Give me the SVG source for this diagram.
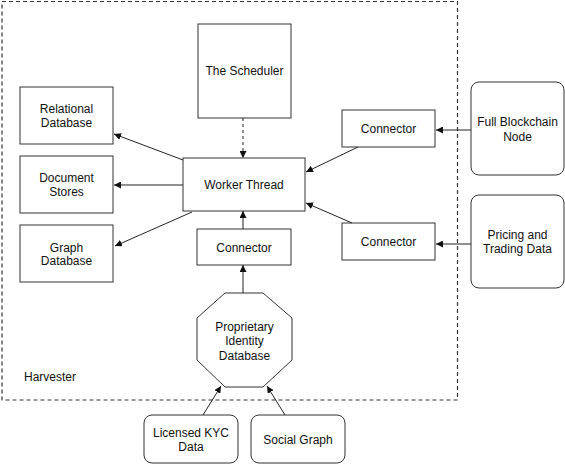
<svg xmlns="http://www.w3.org/2000/svg" width="565" height="464" viewBox="0 0 565 464">
<style>
.box{fill:#fff;stroke:#333;stroke-width:1}
.t{font-family:"Liberation Sans",Arial,sans-serif;font-size:12px;fill:#111;text-anchor:middle}
.e{stroke:#222;stroke-width:1;fill:none}
</style>
<defs>
<marker id="ah" viewBox="0 0 10 10" refX="10" refY="5" markerWidth="7" markerHeight="7" markerUnits="userSpaceOnUse" orient="auto">
<path d="M0,0 L10,5 L0,10 z" fill="#111"/>
</marker>
</defs>
<rect x="0" y="0" width="565" height="464" fill="#fff"/>
<g id="harvester">
<rect x="2" y="1.5" width="455.5" height="398.5" fill="none" stroke="#333" stroke-width="1.2" stroke-dasharray="4,3"/>
<text class="t" x="24" y="381" style="text-anchor:start">Harvester</text>
</g>
<g id="scheduler"><rect class="box" x="198" y="24" width="93" height="94"/><text class="t" x="244.5" y="75">The Scheduler</text></g>
<g id="relational"><rect class="box" x="20" y="87" width="93" height="57"/><text class="t" x="66.5" y="113">Relational</text><text class="t" x="66.5" y="127">Database</text></g>
<g id="document"><rect class="box" x="20" y="156" width="93" height="57"/><text class="t" x="66.5" y="182">Document</text><text class="t" x="66.5" y="196">Stores</text></g>
<g id="graphdb"><rect class="box" x="20" y="225" width="93" height="57"/><text class="t" x="66.5" y="252">Graph</text><text class="t" x="66.5" y="265">Database</text></g>
<g id="worker"><rect class="box" x="183" y="158" width="122" height="53"/><text class="t" x="244" y="189">Worker Thread</text></g>
<g id="connector-bottom"><rect class="box" x="197" y="229" width="94" height="36"/><text class="t" x="244" y="252">Connector</text></g>
<g id="connector-top"><rect class="box" x="342" y="110" width="93" height="37"/><text class="t" x="388.5" y="133">Connector</text></g>
<g id="connector-mid"><rect class="box" x="342" y="223" width="93" height="37"/><text class="t" x="388.5" y="246">Connector</text></g>
<g id="blockchain"><rect class="box" x="471" y="82" width="93" height="93" rx="8"/><text class="t" x="517.5" y="126">Full Blockchain</text><text class="t" x="517.5" y="141">Node</text></g>
<g id="pricing"><rect class="box" x="471" y="195" width="93" height="93" rx="8"/><text class="t" x="517.5" y="239">Pricing and</text><text class="t" x="517.5" y="253">Trading Data</text></g>
<g id="identity"><polygon class="box" points="225,293 263,293 292,318 292,360 263,387 225,387 197,360 197,318"/><text class="t" x="244.5" y="331">Proprietary</text><text class="t" x="244.5" y="345">Identity</text><text class="t" x="244.5" y="360">Database</text></g>
<g id="kyc"><rect class="box" x="144" y="415" width="94" height="48" rx="8"/><text class="t" x="191" y="437">Licensed KYC</text><text class="t" x="191" y="451">Data</text></g>
<g id="social"><rect class="box" x="251" y="415" width="94" height="48" rx="8"/><text class="t" x="298" y="444">Social Graph</text></g>
<g id="connectors">
<line class="e" x1="243" y1="118" x2="243" y2="158" stroke-dasharray="3,3" marker-end="url(#ah)"/>
<line class="e" x1="183" y1="160" x2="114" y2="134" marker-end="url(#ah)"/>
<line class="e" x1="183" y1="185" x2="114" y2="185" marker-end="url(#ah)"/>
<line class="e" x1="192" y1="212" x2="115" y2="246" marker-end="url(#ah)"/>
<line class="e" x1="243" y1="229" x2="243" y2="211" marker-end="url(#ah)"/>
<line class="e" x1="243" y1="293" x2="243" y2="265" marker-end="url(#ah)"/>
<line class="e" x1="358" y1="147" x2="306" y2="172" marker-end="url(#ah)"/>
<line class="e" x1="352" y1="223" x2="306" y2="203" marker-end="url(#ah)"/>
<line class="e" x1="471" y1="130" x2="436" y2="130" marker-end="url(#ah)"/>
<line class="e" x1="471" y1="244" x2="436" y2="244" marker-end="url(#ah)"/>
<line class="e" x1="203" y1="415" x2="221" y2="386" marker-end="url(#ah)"/>
<line class="e" x1="285" y1="415" x2="267" y2="386" marker-end="url(#ah)"/>
</g>
</svg>
